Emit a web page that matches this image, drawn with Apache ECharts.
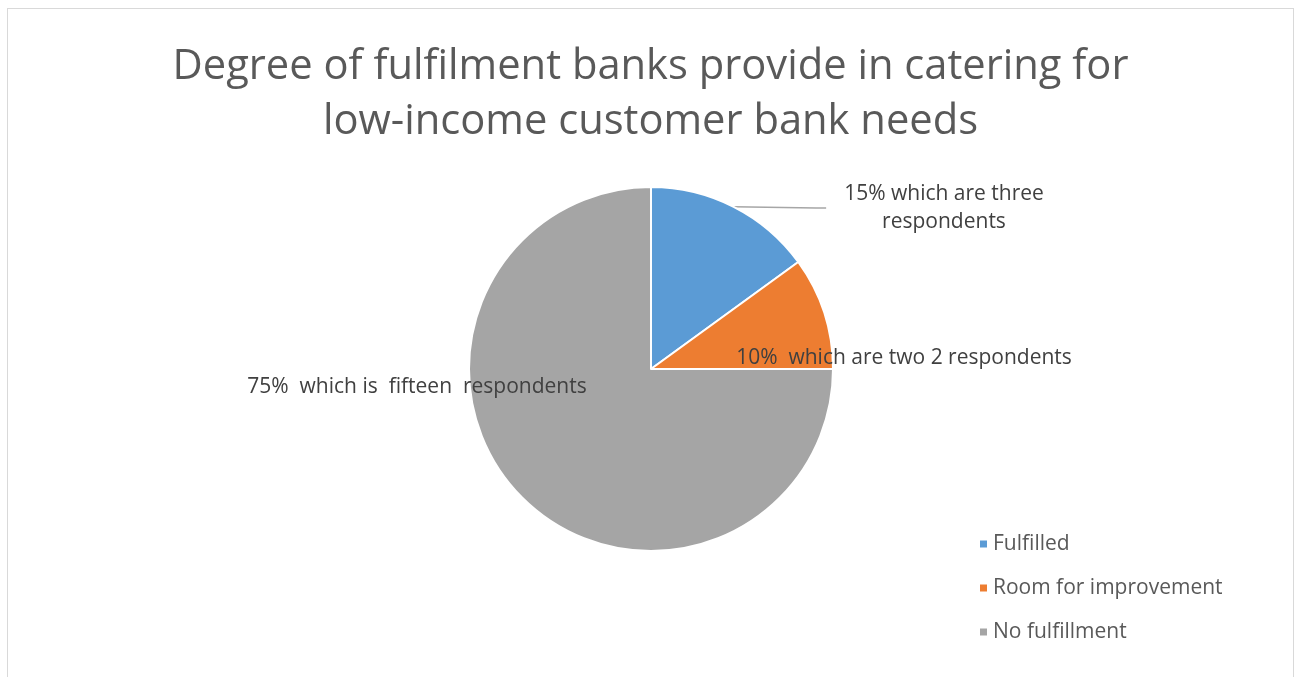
<!DOCTYPE html>
<html>
<head>
<meta charset="utf-8">
<style>
  html, body { margin: 0; padding: 0; background: #ffffff; }
  #frame { position: absolute; left: 7px; top: 8px; width: 1287px; height: 700px; border: 1px solid #d9d9d9; box-sizing: border-box; }
  #chart { position: absolute; left: 0; top: 0; width: 1301px; height: 677px; }
</style>
<script src="https://cdn.jsdelivr.net/npm/echarts@6/dist/echarts.min.js"></script>
</head>
<body>
<div id="frame"></div>
<div id="chart"></div>
<script>
// Survey answers: share of respondents per category (percent)
const categories = ['Fulfilled', 'Room for improvement', 'No fulfillment'];
const shares = [15, 10, 75];
const labelTexts = [
  '15% which are three\nrespondents',
  '10%  which are two 2 respondents',
  '75%  which is  fifteen  respondents'
];
const colors = ['#5B9BD5', '#ED7D31', '#A5A5A5'];

// Where each data label sits (px) on the canvas
const labelSpots = [
  { x: 944, y: 208 },
  { x: 904, y: 358 },
  { x: 417, y: 387 }
];

const chart = echarts.init(document.getElementById('chart'), null, { renderer: 'canvas' });

chart.setOption({
  backgroundColor: 'transparent',
  animation: false,
  color: colors,
  title: {
    text: 'Degree of fulfilment banks provide in catering for\nlow-income customer bank needs',
    left: 'center',
    top: 35,
    textStyle: {
      fontFamily: 'Open Sans',
      fontSize: 41.7,
      fontWeight: 'normal',
      color: '#595959',
      lineHeight: 55
    }
  },
  legend: {
    orient: 'vertical',
    left: 973,
    top: 527,
    icon: 'rect',
    itemWidth: 9,
    itemHeight: 9,
    itemGap: 20,
    textStyle: { fontFamily: 'Open Sans', fontSize: 21, color: '#595959', lineHeight: 24 },
    data: categories
  },
  series: [{
    type: 'pie',
    center: [651, 369],
    radius: 182,
    startAngle: 90,
    clockwise: true,
    itemStyle: { borderColor: '#ffffff', borderWidth: 2 },
    label: {
      show: true,
      position: 'outside',
      fontFamily: 'Open Sans',
      fontSize: 21,
      lineHeight: 28,
      color: '#404040',
      formatter: p => labelTexts[p.dataIndex]
    },
    labelLine: { show: false },
    labelLayout: p => ({
      x: labelSpots[p.dataIndex].x,
      y: labelSpots[p.dataIndex].y,
      align: 'center',
      verticalAlign: 'middle'
    }),
    data: categories.map((name, i) => ({
      name: name,
      value: shares[i],
      label: i === 0 ? { padding: [0, 18, 0, 18] } : {},
      labelLine: i === 0
        ? { show: true, length: 10, length2: 10, smooth: false, lineStyle: { color: '#a6a6a6', width: 1.5 } }
        : { show: false }
    }))
  }]
});
</script>
</body>
</html>
